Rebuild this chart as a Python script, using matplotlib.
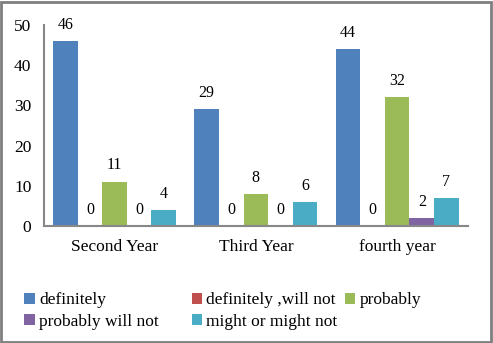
import numpy as np
import matplotlib
matplotlib.use("Agg")
import matplotlib.pyplot as plt
from matplotlib.patches import Rectangle

plt.rcParams['font.family'] = ['Liberation Serif', 'DejaVu Serif']

categories = ["Second Year", "Third Year", "fourth year"]
series = ["definitely", "definitely ,will not", "probably", "probably will not", "might or might not"]
definitely = [46, 29, 44]
will_not = [0, 0, 0]
probably = [11, 8, 32]
probably_not = [0, 0, 2]
might = [4, 6, 7]
colors = ["#4F81BD", "#C0504D", "#9BBB59", "#8064A2", "#4BACC6"]

values = [definitely, will_not, probably, probably_not, might]

fig = plt.figure(figsize=(4.93, 3.43), dpi=100)
ax = fig.add_axes([0.089, 0.341, 0.860, 0.586])

x = np.arange(len(categories))
w = 0.174
handles = []
for i, (vals, c) in enumerate(zip(values, colors)):
    pos = x + (i - 2) * w
    bars = ax.bar(pos, vals, w, color=c, label=series[i])
    handles.append(bars)
    for p, v in zip(pos, vals):
        ax.annotate(str(v), (p, v), xytext=(0, 6), textcoords='offset points',
                    ha='center', va='bottom', fontsize=11.5)

ax.set_xlim(-0.5, 2.5)
ax.set_ylim(0, 50)
ax.set_yticks(range(0, 51, 10))
ax.set_xticks(x)
ax.set_xticklabels(categories, fontsize=12.5)
ax.tick_params(axis='y', labelsize=12.5, length=0, pad=9)
ax.tick_params(axis='x', length=0, pad=9)
for s in ['top', 'right']:
    ax.spines[s].set_visible(False)
for s in ['left', 'bottom']:
    ax.spines[s].set_color('#888888')
    ax.spines[s].set_linewidth(1.5)

# legend: Excel-style fixed columns, filled row by row
columns = [[0, 3], [1, 4], [2]]
col_x = [0.032, 0.371, 0.682]
for cx, idx in zip(col_x, columns):
    leg = fig.legend([handles[i] for i in idx], [series[i] for i in idx],
                     loc='upper left', bbox_to_anchor=(cx, 0.173),
                     frameon=False, fontsize=12.5, handlelength=0.6, handleheight=0.6,
                     handletextpad=0.25, labelspacing=0.3, borderpad=0)

fig.patches.append(Rectangle((0.003, 0.004), 0.992, 0.991, transform=fig.transFigure,
                             fill=False, edgecolor='#7f7f7f', linewidth=2))

fig.savefig('out.png', dpi=100)
